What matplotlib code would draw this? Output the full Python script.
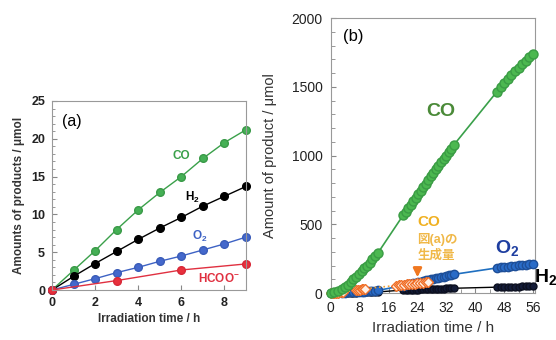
import matplotlib.pyplot as plt
from matplotlib.ticker import MultipleLocator

plt.rcParams['font.family'] = ['Liberation Sans', 'Noto Sans CJK JP', 'DejaVu Sans']
plt.rcParams['mathtext.default'] = 'regular'

# (a) 9 h run
t_a = [0, 1, 2, 3, 4, 5, 6, 7, 8, 9]
co_a = [0, 2.6, 5.2, 8.0, 10.6, 12.9, 15.0, 17.4, 19.5, 21.2]
h2_a = [0, 1.8, 3.5, 5.1, 6.7, 8.2, 9.6, 11.1, 12.4, 13.7]
o2_a = [0, 0.75, 1.5, 2.3, 3.0, 3.8, 4.5, 5.3, 6.1, 7.0]
t_hcoo = [0, 3, 6, 9]
hcoo_a = [0, 1.25, 2.65, 3.45]

# (b) 56 h run
t_b = [0, 1, 2, 3, 4, 4.75, 5.5, 6.25, 7, 7.75, 8.5, 9.25, 10, 10.75, 11.5, 12.25, 13,
       20, 20.7, 21.4, 22.1, 22.8, 23.5, 24.2, 24.9, 25.6, 26.3, 27, 27.7, 28.4, 29.1,
       29.8, 30.5, 31.2, 31.9, 32.6, 33.3, 34,
       46, 47, 48, 49, 50, 51, 52, 53, 54, 55, 56]
co_b = [0, 5, 14, 28, 45, 62, 80, 100, 120, 140, 160, 180, 200, 222, 245, 268, 290,
        565, 590, 616, 642, 668, 694, 720, 745, 770, 796, 822, 848, 874, 900,
        925, 950, 975, 1000, 1025, 1050, 1075,
        1465, 1495, 1525, 1555, 1585, 1612, 1640, 1665, 1690, 1715, 1740]
o2_b = [0, 1, 2, 3, 4, 5, 6, 7, 8, 9, 10, 11, 12, 13, 15, 17, 19,
        55, 60, 64, 68, 72, 76, 80, 84, 88, 92, 96, 100, 104, 108,
        112, 116, 120, 124, 128, 132, 136,
        183, 186, 189, 192, 195, 198, 201, 204, 207, 210, 214]
h2_b = [0, 1, 1, 2, 2, 3, 3, 4, 4, 5, 5, 6, 6, 7, 7, 8, 8,
        22, 23, 24, 24, 25, 26, 26, 27, 28, 28, 29, 30, 30, 31,
        32, 32, 33, 34, 34, 35, 35,
        43, 44, 44, 45, 46, 46, 47, 48, 48, 49, 50]
t_fig_a = [0, 0.5, 1, 1.5, 2, 2.5, 3, 3.5,
           7, 7.5, 8, 8.5, 9, 9.5,
           18, 18.75, 19.5, 20.25, 21, 21.75, 22.5, 23.25, 24, 24.75, 25.5, 26.25, 27]
co_fig_a = [0, 1, 2, 3, 4, 5, 6, 7,
            22, 24, 26, 28, 30, 32,
            55, 57, 59, 61, 63, 65, 67, 69, 71, 73, 75, 77, 80]

fig = plt.figure(figsize=(5.56, 3.40), dpi=100)

# ---- (a)
ax1 = fig.add_axes([0.0935, 0.147, 0.349, 0.556])
ax1.plot(t_a, co_a, '-o', color='#3aa04a', mfc='#45b055', mec='#3a9a48', ms=5.5, lw=1, clip_on=False)
ax1.plot(t_a, h2_a, '-o', color='black', mfc='black', mec='black', ms=5.5, lw=1, clip_on=False)
ax1.plot(t_a, o2_a, '-o', color='#3d62c4', mfc='#4468cc', mec='#3a5cb8', ms=5.5, lw=1, clip_on=False)
ax1.plot(t_hcoo, hcoo_a, '-o', color='#e03040', mfc='#e8303c', mec='#d82838', ms=5.5, lw=1, clip_on=False)
ax1.set_xlim(0, 9)
ax1.set_ylim(0, 25)
ax1.xaxis.set_major_locator(MultipleLocator(2))
ax1.yaxis.set_major_locator(MultipleLocator(5))
ax1.yaxis.set_minor_locator(MultipleLocator(1))
ax1.tick_params(which='both', direction='in', labelsize=9, colors='#888888',
                labelcolor='#222222', pad=5)
ax1.tick_params(which='minor', length=2)
for lab in ax1.get_xticklabels() + ax1.get_yticklabels():
    lab.set_fontweight('bold')
for s in ax1.spines.values():
    s.set_color('#999999')
ax1.set_xlabel('Irradiation time / h', fontsize=8.5, fontweight='bold', color='#333333', labelpad=3)
ax1.set_ylabel('Amounts of products / μmol', fontsize=8.5, fontweight='bold', color='#333333', labelpad=4)
ax1.text(0.9, 22.3, '(a)', fontsize=11.5, ha='center', va='center')
ax1.text(6.0, 17.7, 'CO', color='#3aa04a', fontsize=8.5, fontweight='bold', ha='center', va='center')
ax1.text(6.5, 12.3, 'H$_2$', color='black', fontsize=8.5, fontweight='bold', ha='center', va='center')
ax1.text(6.85, 7.1, 'O$_2$', color='#3d62c4', fontsize=8.5, fontweight='bold', ha='center', va='center')
ax1.text(7.75, 1.55, 'HCOO$^{-}$', color='#e03040', fontsize=8.5, fontweight='bold', ha='center', va='center')

# ---- (b)
ax2 = fig.add_axes([0.595, 0.138, 0.367, 0.809])
ax2.plot(t_b, h2_b, '-o', color='black', mfc='#141c38', mec='#0c1020', ms=5, lw=1, zorder=3, clip_on=False)
ax2.plot(t_b, o2_b, '-o', color='#1f6fc0', mfc='#2a6cc8', mec='#1e4f98', ms=6, lw=1.2, zorder=4, clip_on=False)
ax2.plot(t_fig_a, co_fig_a, ':D', color='#f0a030', mfc='#fff0e6', mec='#f07028', ms=5, mew=1, lw=1.2,
         zorder=5, clip_on=False)
ax2.plot(t_b, co_b, '-o', color='#3aa04a', mfc='#4cb850', mec='#3a9c44', ms=6.5, lw=1.2, zorder=6, clip_on=False)
ax2.set_xlim(0, 56.5)
ax2.set_ylim(0, 2000)
ax2.xaxis.set_major_locator(MultipleLocator(8))
ax2.xaxis.set_minor_locator(MultipleLocator(4))
ax2.yaxis.set_major_locator(MultipleLocator(500))
ax2.yaxis.set_minor_locator(MultipleLocator(100))
ax2.tick_params(which='both', direction='in', labelsize=10, colors='#888888',
                labelcolor='#222222', pad=6)
ax2.tick_params(which='minor', length=3)
for s in ax2.spines.values():
    s.set_color('#999999')
ax2.set_xlabel('Irradiation time / h', fontsize=11, color='#333333', labelpad=4)
ax2.set_ylabel('Amount of product / μmol', fontsize=10.5, color='#333333', labelpad=10)
ax2.text(6.2, 1866, '(b)', fontsize=12, ha='center', va='center')
ax2.text(30.5, 1318, 'CO', color='#4a8a38', fontsize=14, fontweight='bold', ha='center', va='center')
ax2.text(24, 519, 'CO', color='#f0b020', fontsize=11, fontweight='bold', ha='left', va='center')
ax2.text(24, 390, '図(a)の', color='#f0b848', fontsize=9, fontweight='bold', ha='left', va='center')
ax2.text(24, 276, '生成量', color='#f0b848', fontsize=9, fontweight='bold', ha='left', va='center')
ax2.annotate('', xy=(24, 95), xytext=(24, 180),
             arrowprops=dict(arrowstyle='-|>', color='#f07820', lw=2, mutation_scale=12), zorder=7)
ax2.text(48.9, 325, 'O$_2$', color='#1e3ea0', fontsize=14, fontweight='bold', ha='center', va='center')
ax2.text(59.5, 119, 'H$_2$', color='black', fontsize=14, fontweight='bold', ha='center', va='center',
         clip_on=False)

fig.savefig('out.png', dpi=100)
